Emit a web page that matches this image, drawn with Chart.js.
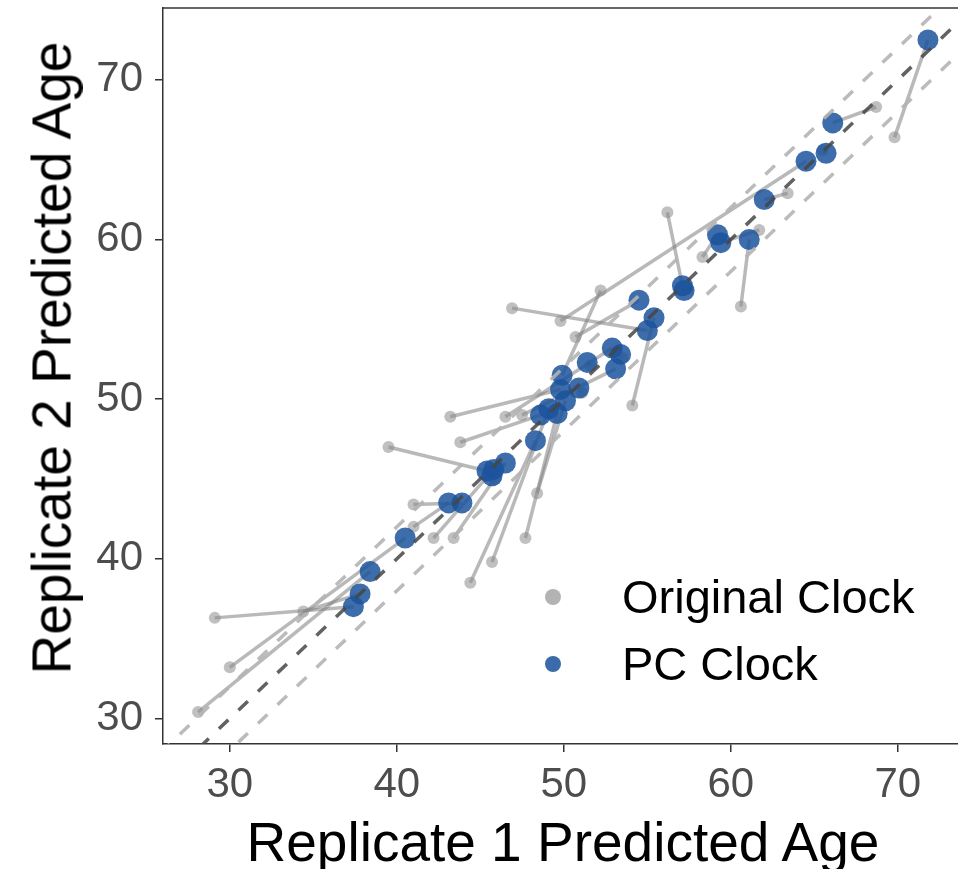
<!DOCTYPE html>
<html>
<head>
<meta charset="utf-8">
<script src="https://cdn.jsdelivr.net/npm/chart.js@4.4.1/dist/chart.umd.min.js"></script>
<style>
  html, body { margin: 0; padding: 0; background: #ffffff; }
  #wrap { position: relative; width: 958px; height: 869px; font-family: "Liberation Sans", Arial, sans-serif; overflow: hidden; }
  #chart { position: absolute; left: 0; top: 0; }
  .title { position: absolute; color: #000; font-size: 55px; white-space: nowrap; line-height: 1; }
  #xTitle { left: 563px; top: 842px; transform: translate(-50%, -50%); }
  #yTitle { left: 52px; top: 358px; transform: translate(-50%, -50%) rotate(-90deg); }
  .legend { position: absolute; left: 540px; font-size: 47px; color: #000; white-space: nowrap; line-height: 54px; height: 54px; }
  .legend span.dot { position: absolute; left: 5px; top: 19px; width: 16px; height: 16px; border-radius: 50%; }
  .legend span.txt { position: absolute; left: 82px; top: 0; }
</style>
</head>
<body>
<div id="wrap">
  <canvas id="chart" width="958" height="869"></canvas>
  <div class="title" id="xTitle">Replicate 1 Predicted Age</div>
  <div class="title" id="yTitle">Replicate 2 Predicted Age</div>
  <div class="legend" style="top:570px"><span class="dot" style="background:#b3b3b3"></span><span class="txt">Original Clock</span></div>
  <div class="legend" style="top:637px"><span class="dot" style="background:#3b6ba8"></span><span class="txt">PC Clock</span></div>
</div>
<script>
// PC clock predictions (replicate 1 vs replicate 2)
const pcX = [71.8, 66.1, 64.5, 65.7, 62.0, 59.2, 59.4, 61.1, 57.1, 57.2,
             54.5, 55.4, 55.0, 52.9, 53.4, 53.1, 51.4, 49.9, 50.9, 49.8,
             50.1, 49.6, 49.1, 48.6, 48.3, 46.5, 45.8, 45.4, 45.7, 43.9,
             43.1, 40.5, 38.4, 37.8, 37.4];
const pcY = [72.5, 67.3, 64.9, 65.4, 62.5, 60.3, 59.8, 60.0, 57.1, 56.8,
             56.2, 55.1, 54.3, 53.2, 52.8, 51.9, 52.3, 51.5, 50.7, 50.6,
             49.9, 49.1, 49.4, 49.0, 47.4, 46.0, 45.6, 45.5, 45.2, 43.5,
             43.5, 41.3, 39.2, 37.8, 37.0];
// Original clock predictions for the same samples
const origX = [69.8, 68.7, 49.8, 65.5, 63.4, 58.3, 61.7, 60.6, 56.2, 57.4,
               50.7, 54.1, 46.9, 46.5, 53.5, 47.5, 51.6, 52.2, 51.1, 43.2,
               48.4, 47.7, 45.7, 43.8, 44.4, 43.4, 42.2, 39.5, 45.9, 41.0,
               41.0, 30.0, 28.1, 34.4, 29.1];
const origY = [66.4, 68.3, 54.9, 65.6, 62.9, 58.9, 60.6, 55.8, 61.7, 56.9,
               53.9, 49.6, 55.7, 48.9, 52.6, 49.0, 52.1, 56.8, 50.4, 48.9,
               44.1, 41.3, 39.8, 47.3, 38.5, 41.3, 41.3, 47.0, 45.0, 43.4,
               42.0, 33.2, 30.4, 36.7, 36.3];

const xTicks = [30, 40, 50, 60, 70];
const yTicks = [30, 40, 50, 60, 70];
const xRange = [26, 73.6];
const yRange = [28.4, 74.5];
const bandOffsets = [2, -2];   // light dashed band around identity

const GREY_PT   = 'rgba(140,140,140,0.55)';
const GREY_LINE = 'rgba(128,128,128,0.55)';
const BLUE_PT   = 'rgba(28,84,156,0.85)';

const datasets = [];

// identity line + band
datasets.push({
  type: 'line',
  data: [{ x: 20, y: 20 }, { x: 80, y: 80 }],
  borderColor: 'rgba(70,70,70,0.85)', borderWidth: 3.5, borderDash: [13, 14],
  pointRadius: 0, order: -1,
});
bandOffsets.forEach(o => {
  datasets.push({
    type: 'line',
    data: [{ x: 20, y: 20 + o }, { x: 80, y: 80 + o }],
    borderColor: 'rgba(180,180,180,0.9)', borderWidth: 3.5, borderDash: [13, 14],
    pointRadius: 0, order: -1,
  });
});

// segments joining each sample's two clocks
pcX.forEach((_, i) => {
  datasets.push({
    type: 'line',
    data: [{ x: origX[i], y: origY[i] }, { x: pcX[i], y: pcY[i] }],
    borderColor: GREY_LINE, borderWidth: 3.5,
    pointRadius: 0, order: 3,
  });
});

datasets.push({
  type: 'scatter',
  data: origX.map((x, i) => ({ x, y: origY[i] })),
  backgroundColor: GREY_PT, borderWidth: 0, pointRadius: 6, order: 2,
});
datasets.push({
  type: 'scatter',
  data: pcX.map((x, i) => ({ x, y: pcY[i] })),
  backgroundColor: BLUE_PT, borderWidth: 0, pointRadius: 10.5, order: 1,
});

const panelTop = {
  id: 'panelTop',
  afterDraw(chart) {
    const { ctx, chartArea: a } = chart;
    ctx.save();
    ctx.strokeStyle = '#333';
    ctx.lineWidth = 1.5;
    ctx.beginPath();
    ctx.moveTo(a.left, a.top);
    ctx.lineTo(a.right, a.top);
    ctx.stroke();
    ctx.restore();
  }
};

const tickFont = { family: '"Liberation Sans", Arial, sans-serif', size: 42 };

new Chart(document.getElementById('chart'), {
  type: 'scatter',
  data: { datasets },
  options: {
    responsive: false,
    devicePixelRatio: 1,
    animation: false,
    layout: { autoPadding: false, padding: { top: 8, right: 0, left: 0, bottom: 0 } },
    plugins: { legend: { display: false }, tooltip: { enabled: false } },
    scales: {
      x: {
        type: 'linear', min: xRange[0], max: xRange[1],
        afterBuildTicks: s => { s.ticks = xTicks.map(v => ({ value: v })); },
        afterFit: s => { s.height = 125; s.paddingLeft = 0; s.paddingRight = 0; },
        grid: { drawOnChartArea: false, drawTicks: true, tickLength: 8, color: '#333', lineWidth: 1.5 },
        border: { display: true, color: '#333', width: 1.5 },
        ticks: { color: '#4d4d4d', font: tickFont, padding: 8, maxRotation: 0 },
      },
      y: {
        type: 'linear', min: yRange[0], max: yRange[1],
        afterBuildTicks: s => { s.ticks = yTicks.map(v => ({ value: v })); },
        afterFit: s => { s.width = 163; s.paddingTop = 0; s.paddingBottom = 0; },
        grid: { drawOnChartArea: false, drawTicks: true, tickLength: 8, color: '#333', lineWidth: 1.5 },
        border: { display: true, color: '#333', width: 1.5 },
        ticks: { color: '#4d4d4d', font: tickFont, padding: 12 },
      },
    },
  },
  plugins: [panelTop],
});
</script>
</body>
</html>
